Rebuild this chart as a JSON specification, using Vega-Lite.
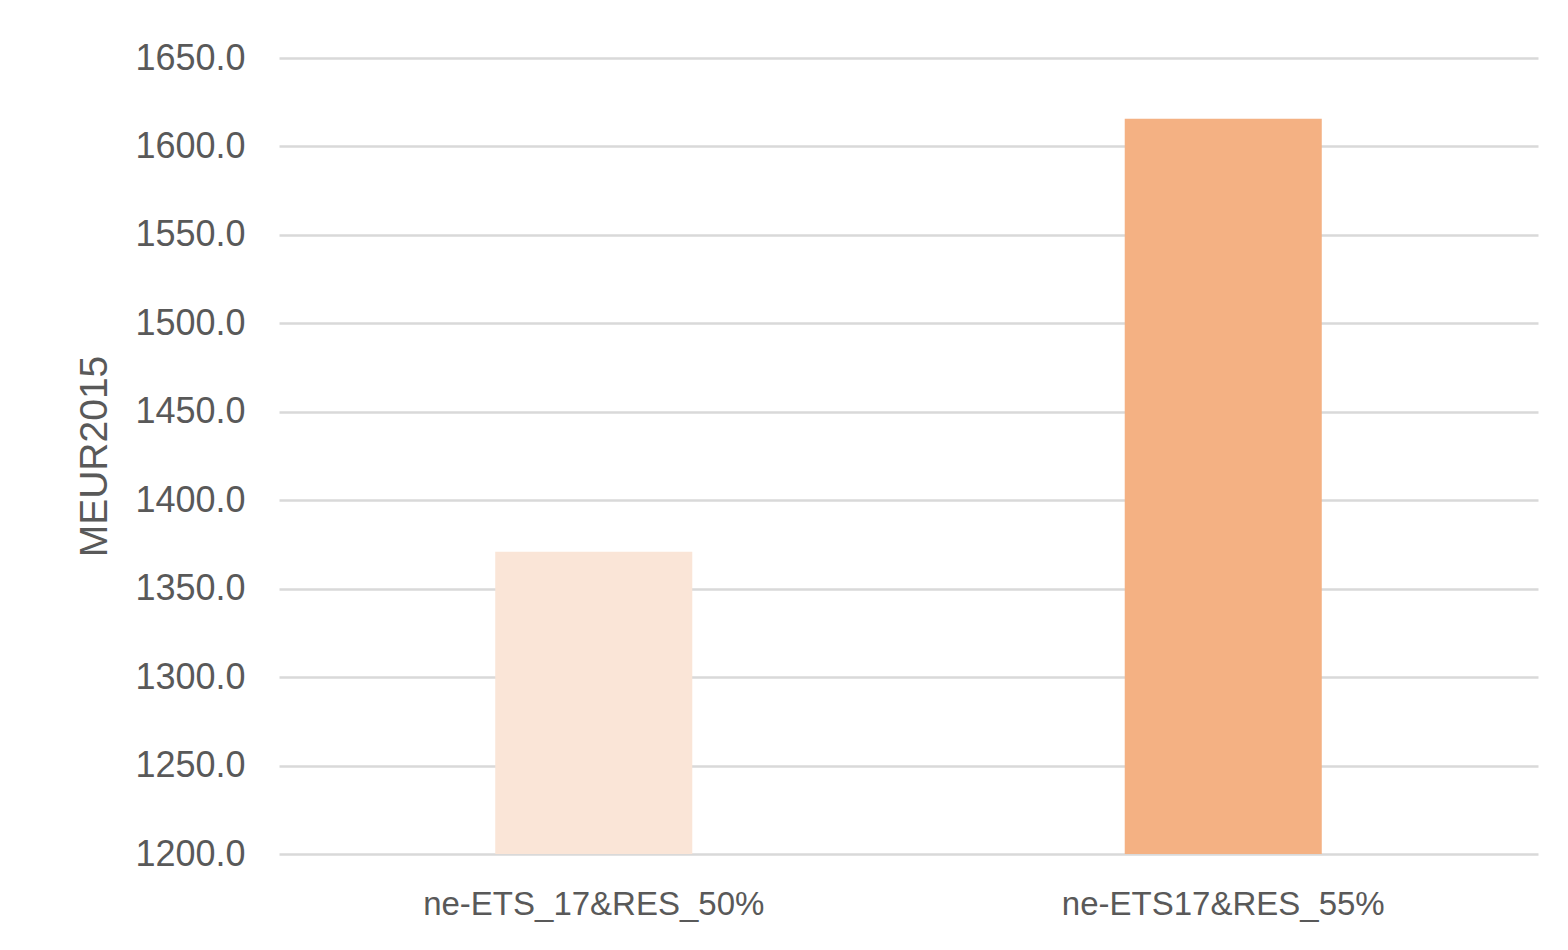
{
  "$schema": "https://vega.github.io/schema/vega-lite/v6.json",
  "autosize": {"type": "none"},
  "padding": {"left": 279, "top": 58, "right": 30, "bottom": 96},
  "width": 1259,
  "height": 796,
  "background": "white",
  "data": {"values": [
    {"scenario": "ne-ETS_17&RES_50%", "value": 1370.8},
    {"scenario": "ne-ETS17&RES_55%", "value": 1615.6}
  ]},
  "mark": {"type": "bar", "clip": true},
  "encoding": {
    "x": {
      "field": "scenario", "type": "nominal", "sort": null,
      "scale": {"paddingInner": 0.687, "paddingOuter": 0.3435},
      "axis": {"title": null, "labelAngle": 0, "domain": false, "ticks": false, "labelPadding": 34, "labelLimit": 0,
               "labelFont": "Liberation Sans", "labelFontSize": 33, "labelColor": "#595959"}
    },
    "y": {
      "field": "value", "type": "quantitative",
      "scale": {"domain": [1200, 1650], "zero": false, "nice": false},
      "axis": {"title": "MEUR2015", "values": [1200,1250,1300,1350,1400,1450,1500,1550,1600,1650],
               "format": ".1f", "domain": false, "ticks": false, "labelPadding": 34,
               "labelFont": "Liberation Sans", "labelFontSize": 36, "labelColor": "#595959",
               "titleFont": "Liberation Sans", "titleFontSize": 39, "titleColor": "#595959", "titleFontWeight": "normal",
               "titlePadding": 20,
               "gridColor": "#D9D9D9", "gridWidth": 2.5}
    },
    "y2": {"datum": 1200},
    "color": {
      "field": "scenario", "type": "nominal", "sort": null,
      "scale": {"range": ["#FAE5D7", "#F4B183"]},
      "legend": null
    }
  },
  "config": {"view": {"stroke": null}}
}
